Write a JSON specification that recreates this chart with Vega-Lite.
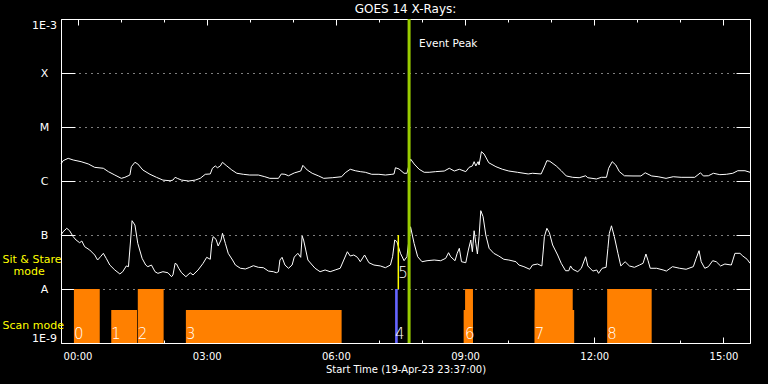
{
  "$schema": "https://vega.github.io/schema/vega-lite/v6.json",
  "autosize": "none",
  "width": 689,
  "height": 324,
  "padding": {"left": 61, "top": 19, "right": 18, "bottom": 41},
  "background": "black",
  "title": {"text": "GOES 14 X-Rays:", "color": "white", "fontSize": 12, "font": "DejaVu Sans", "fontWeight": "normal", "anchor": "middle", "baseline": "bottom", "offset": -10},
  "config": {
    "view": {"stroke": "white", "strokeWidth": 1},
    "axis": {"domain": false, "grid": false, "labelColor": "white", "tickColor": "white", "tickWidth": 1, "titleColor": "white", "labelFont": "DejaVu Sans", "titleFont": "DejaVu Sans", "titleFontWeight": "normal", "labelOverlap": false, "labelFlush": false}
  },
  "datasets": {
    "flux": [
      {"t": "2023-04-19T23:37:00Z", "ch": "L", "f": 2.07e-6},
      {"t": "2023-04-19T23:40:00Z", "ch": "L", "f": 2.38e-6},
      {"t": "2023-04-19T23:47:00Z", "ch": "L", "f": 2.63e-6},
      {"t": "2023-04-19T23:54:00Z", "ch": "L", "f": 2.45e-6},
      {"t": "2023-04-20T00:05:00Z", "ch": "L", "f": 2.28e-6},
      {"t": "2023-04-20T00:15:00Z", "ch": "L", "f": 2.07e-6},
      {"t": "2023-04-20T00:24:00Z", "ch": "L", "f": 1.79e-6},
      {"t": "2023-04-20T00:36:00Z", "ch": "L", "f": 1.72e-6},
      {"t": "2023-04-20T00:43:00Z", "ch": "L", "f": 1.49e-6},
      {"t": "2023-04-20T00:52:00Z", "ch": "L", "f": 1.29e-6},
      {"t": "2023-04-20T01:01:00Z", "ch": "L", "f": 1.12e-6},
      {"t": "2023-04-20T01:06:00Z", "ch": "L", "f": 1.17e-6},
      {"t": "2023-04-20T01:13:00Z", "ch": "L", "f": 1.29e-6},
      {"t": "2023-04-20T01:15:00Z", "ch": "L", "f": 1.84e-6},
      {"t": "2023-04-20T01:20:00Z", "ch": "L", "f": 2.22e-6},
      {"t": "2023-04-20T01:24:00Z", "ch": "L", "f": 2.07e-6},
      {"t": "2023-04-20T01:31:00Z", "ch": "L", "f": 1.60e-6},
      {"t": "2023-04-20T01:41:00Z", "ch": "L", "f": 1.33e-6},
      {"t": "2023-04-20T01:50:00Z", "ch": "L", "f": 1.17e-6},
      {"t": "2023-04-20T01:59:00Z", "ch": "L", "f": 1.04e-6},
      {"t": "2023-04-20T02:09:00Z", "ch": "L", "f": 1.01e-6},
      {"t": "2023-04-20T02:13:00Z", "ch": "L", "f": 1.04e-6},
      {"t": "2023-04-20T02:16:00Z", "ch": "L", "f": 1.17e-6},
      {"t": "2023-04-20T02:19:00Z", "ch": "L", "f": 1.12e-6},
      {"t": "2023-04-20T02:25:00Z", "ch": "L", "f": 1.04e-6},
      {"t": "2023-04-20T02:35:00Z", "ch": "L", "f": 1.00e-6},
      {"t": "2023-04-20T02:44:00Z", "ch": "L", "f": 1.04e-6},
      {"t": "2023-04-20T02:51:00Z", "ch": "L", "f": 1.12e-6},
      {"t": "2023-04-20T02:58:00Z", "ch": "L", "f": 1.33e-6},
      {"t": "2023-04-20T03:05:00Z", "ch": "L", "f": 1.35e-6},
      {"t": "2023-04-20T03:08:00Z", "ch": "L", "f": 1.72e-6},
      {"t": "2023-04-20T03:12:00Z", "ch": "L", "f": 1.90e-6},
      {"t": "2023-04-20T03:15:00Z", "ch": "L", "f": 1.76e-6},
      {"t": "2023-04-20T03:19:00Z", "ch": "L", "f": 1.90e-6},
      {"t": "2023-04-20T03:22:00Z", "ch": "L", "f": 2.22e-6},
      {"t": "2023-04-20T03:28:00Z", "ch": "L", "f": 1.90e-6},
      {"t": "2023-04-20T03:35:00Z", "ch": "L", "f": 1.60e-6},
      {"t": "2023-04-20T03:42:00Z", "ch": "L", "f": 1.39e-6},
      {"t": "2023-04-20T03:51:00Z", "ch": "L", "f": 1.33e-6},
      {"t": "2023-04-20T04:00:00Z", "ch": "L", "f": 1.29e-6},
      {"t": "2023-04-20T04:12:00Z", "ch": "L", "f": 1.29e-6},
      {"t": "2023-04-20T04:21:00Z", "ch": "L", "f": 1.20e-6},
      {"t": "2023-04-20T04:28:00Z", "ch": "L", "f": 1.12e-6},
      {"t": "2023-04-20T04:40:00Z", "ch": "L", "f": 1.12e-6},
      {"t": "2023-04-20T04:44:00Z", "ch": "L", "f": 1.35e-6},
      {"t": "2023-04-20T04:49:00Z", "ch": "L", "f": 1.33e-6},
      {"t": "2023-04-20T04:54:00Z", "ch": "L", "f": 1.25e-6},
      {"t": "2023-04-20T05:02:00Z", "ch": "L", "f": 1.41e-6},
      {"t": "2023-04-20T05:11:00Z", "ch": "L", "f": 1.53e-6},
      {"t": "2023-04-20T05:14:00Z", "ch": "L", "f": 1.95e-6},
      {"t": "2023-04-20T05:20:00Z", "ch": "L", "f": 1.60e-6},
      {"t": "2023-04-20T05:27:00Z", "ch": "L", "f": 1.39e-6},
      {"t": "2023-04-20T05:36:00Z", "ch": "L", "f": 1.24e-6},
      {"t": "2023-04-20T05:43:00Z", "ch": "L", "f": 1.12e-6},
      {"t": "2023-04-20T05:55:00Z", "ch": "L", "f": 1.15e-6},
      {"t": "2023-04-20T06:08:00Z", "ch": "L", "f": 1.20e-6},
      {"t": "2023-04-20T06:13:00Z", "ch": "L", "f": 1.42e-6},
      {"t": "2023-04-20T06:20:00Z", "ch": "L", "f": 1.65e-6},
      {"t": "2023-04-20T06:27:00Z", "ch": "L", "f": 1.55e-6},
      {"t": "2023-04-20T06:34:00Z", "ch": "L", "f": 1.49e-6},
      {"t": "2023-04-20T06:41:00Z", "ch": "L", "f": 1.45e-6},
      {"t": "2023-04-20T06:50:00Z", "ch": "L", "f": 1.33e-6},
      {"t": "2023-04-20T07:00:00Z", "ch": "L", "f": 1.33e-6},
      {"t": "2023-04-20T07:09:00Z", "ch": "L", "f": 1.29e-6},
      {"t": "2023-04-20T07:18:00Z", "ch": "L", "f": 1.33e-6},
      {"t": "2023-04-20T07:21:00Z", "ch": "L", "f": 1.35e-6},
      {"t": "2023-04-20T07:23:00Z", "ch": "L", "f": 1.76e-6},
      {"t": "2023-04-20T07:28:00Z", "ch": "L", "f": 1.67e-6},
      {"t": "2023-04-20T07:35:00Z", "ch": "L", "f": 1.39e-6},
      {"t": "2023-04-20T07:39:00Z", "ch": "L", "f": 1.39e-6},
      {"t": "2023-04-20T07:44:00Z", "ch": "L", "f": 2.56e-6},
      {"t": "2023-04-20T07:49:00Z", "ch": "L", "f": 2.07e-6},
      {"t": "2023-04-20T07:56:00Z", "ch": "L", "f": 1.65e-6},
      {"t": "2023-04-20T08:03:00Z", "ch": "L", "f": 1.45e-6},
      {"t": "2023-04-20T08:10:00Z", "ch": "L", "f": 1.45e-6},
      {"t": "2023-04-20T08:19:00Z", "ch": "L", "f": 1.49e-6},
      {"t": "2023-04-20T08:31:00Z", "ch": "L", "f": 1.53e-6},
      {"t": "2023-04-20T08:38:00Z", "ch": "L", "f": 1.72e-6},
      {"t": "2023-04-20T08:45:00Z", "ch": "L", "f": 1.53e-6},
      {"t": "2023-04-20T08:52:00Z", "ch": "L", "f": 1.65e-6},
      {"t": "2023-04-20T09:01:00Z", "ch": "L", "f": 1.49e-6},
      {"t": "2023-04-20T09:05:36Z", "ch": "L", "f": 1.79e-6},
      {"t": "2023-04-20T09:10:12Z", "ch": "L", "f": 1.90e-6},
      {"t": "2023-04-20T09:12:36Z", "ch": "L", "f": 2.28e-6},
      {"t": "2023-04-20T09:15:00Z", "ch": "L", "f": 1.90e-6},
      {"t": "2023-04-20T09:18:12Z", "ch": "L", "f": 2.28e-6},
      {"t": "2023-04-20T09:19:30Z", "ch": "L", "f": 1.98e-6},
      {"t": "2023-04-20T09:22:48Z", "ch": "L", "f": 3.49e-6},
      {"t": "2023-04-20T09:26:30Z", "ch": "L", "f": 3.16e-6},
      {"t": "2023-04-20T09:33:00Z", "ch": "L", "f": 2.18e-6},
      {"t": "2023-04-20T09:43:00Z", "ch": "L", "f": 1.84e-6},
      {"t": "2023-04-20T09:52:00Z", "ch": "L", "f": 1.65e-6},
      {"t": "2023-04-20T10:01:00Z", "ch": "L", "f": 1.53e-6},
      {"t": "2023-04-20T10:13:00Z", "ch": "L", "f": 1.45e-6},
      {"t": "2023-04-20T10:28:00Z", "ch": "L", "f": 1.35e-6},
      {"t": "2023-04-20T10:34:00Z", "ch": "L", "f": 1.39e-6},
      {"t": "2023-04-20T10:46:00Z", "ch": "L", "f": 1.35e-6},
      {"t": "2023-04-20T10:51:00Z", "ch": "L", "f": 1.90e-6},
      {"t": "2023-04-20T10:54:00Z", "ch": "L", "f": 2.38e-6},
      {"t": "2023-04-20T10:58:00Z", "ch": "L", "f": 2.32e-6},
      {"t": "2023-04-20T11:07:00Z", "ch": "L", "f": 1.90e-6},
      {"t": "2023-04-20T11:14:00Z", "ch": "L", "f": 1.55e-6},
      {"t": "2023-04-20T11:21:00Z", "ch": "L", "f": 1.24e-6},
      {"t": "2023-04-20T11:30:00Z", "ch": "L", "f": 1.17e-6},
      {"t": "2023-04-20T11:39:00Z", "ch": "L", "f": 1.15e-6},
      {"t": "2023-04-20T11:48:00Z", "ch": "L", "f": 1.25e-6},
      {"t": "2023-04-20T11:51:00Z", "ch": "L", "f": 1.15e-6},
      {"t": "2023-04-20T12:03:00Z", "ch": "L", "f": 1.09e-6},
      {"t": "2023-04-20T12:10:00Z", "ch": "L", "f": 1.17e-6},
      {"t": "2023-04-20T12:17:00Z", "ch": "L", "f": 1.17e-6},
      {"t": "2023-04-20T12:20:00Z", "ch": "L", "f": 1.72e-6},
      {"t": "2023-04-20T12:25:00Z", "ch": "L", "f": 2.28e-6},
      {"t": "2023-04-20T12:30:00Z", "ch": "L", "f": 1.98e-6},
      {"t": "2023-04-20T12:35:00Z", "ch": "L", "f": 1.49e-6},
      {"t": "2023-04-20T12:42:00Z", "ch": "L", "f": 1.25e-6},
      {"t": "2023-04-20T12:54:00Z", "ch": "L", "f": 1.24e-6},
      {"t": "2023-04-20T13:05:00Z", "ch": "L", "f": 1.24e-6},
      {"t": "2023-04-20T13:11:00Z", "ch": "L", "f": 1.42e-6},
      {"t": "2023-04-20T13:20:00Z", "ch": "L", "f": 1.24e-6},
      {"t": "2023-04-20T13:29:00Z", "ch": "L", "f": 1.20e-6},
      {"t": "2023-04-20T13:40:00Z", "ch": "L", "f": 1.12e-6},
      {"t": "2023-04-20T13:50:00Z", "ch": "L", "f": 1.20e-6},
      {"t": "2023-04-20T14:01:00Z", "ch": "L", "f": 1.17e-6},
      {"t": "2023-04-20T14:20:00Z", "ch": "L", "f": 1.17e-6},
      {"t": "2023-04-20T14:28:00Z", "ch": "L", "f": 1.42e-6},
      {"t": "2023-04-20T14:32:00Z", "ch": "L", "f": 1.24e-6},
      {"t": "2023-04-20T14:39:00Z", "ch": "L", "f": 1.25e-6},
      {"t": "2023-04-20T14:46:00Z", "ch": "L", "f": 1.39e-6},
      {"t": "2023-04-20T14:55:00Z", "ch": "L", "f": 1.31e-6},
      {"t": "2023-04-20T15:04:00Z", "ch": "L", "f": 1.33e-6},
      {"t": "2023-04-20T15:13:00Z", "ch": "L", "f": 1.39e-6},
      {"t": "2023-04-20T15:20:00Z", "ch": "L", "f": 1.55e-6},
      {"t": "2023-04-20T15:30:00Z", "ch": "L", "f": 1.55e-6},
      {"t": "2023-04-20T15:37:00Z", "ch": "L", "f": 1.45e-6},
      {"t": "2023-04-19T23:37:00Z", "ch": "S", "f": 1.00e-7},
      {"t": "2023-04-19T23:40:00Z", "ch": "S", "f": 1.15e-7},
      {"t": "2023-04-19T23:45:00Z", "ch": "S", "f": 1.33e-7},
      {"t": "2023-04-19T23:49:00Z", "ch": "S", "f": 1.20e-7},
      {"t": "2023-04-19T23:54:00Z", "ch": "S", "f": 9.3e-8},
      {"t": "2023-04-19T23:58:00Z", "ch": "S", "f": 8.08e-8},
      {"t": "2023-04-20T00:03:00Z", "ch": "S", "f": 7.2e-8},
      {"t": "2023-04-20T00:06:00Z", "ch": "S", "f": 7.74e-8},
      {"t": "2023-04-20T00:10:00Z", "ch": "S", "f": 6.07e-8},
      {"t": "2023-04-20T00:17:00Z", "ch": "S", "f": 5.28e-8},
      {"t": "2023-04-20T00:24:00Z", "ch": "S", "f": 4.26e-8},
      {"t": "2023-04-20T00:28:00Z", "ch": "S", "f": 3.44e-8},
      {"t": "2023-04-20T00:32:00Z", "ch": "S", "f": 3.96e-8},
      {"t": "2023-04-20T00:36:00Z", "ch": "S", "f": 4.58e-8},
      {"t": "2023-04-20T00:40:00Z", "ch": "S", "f": 3.70e-8},
      {"t": "2023-04-20T00:45:00Z", "ch": "S", "f": 2.78e-8},
      {"t": "2023-04-20T00:52:00Z", "ch": "S", "f": 2.25e-8},
      {"t": "2023-04-20T00:59:00Z", "ch": "S", "f": 1.90e-8},
      {"t": "2023-04-20T01:03:00Z", "ch": "S", "f": 2.09e-8},
      {"t": "2023-04-20T01:08:00Z", "ch": "S", "f": 2.67e-8},
      {"t": "2023-04-20T01:11:00Z", "ch": "S", "f": 2.59e-8},
      {"t": "2023-04-20T01:14:00Z", "ch": "S", "f": 8.08e-8},
      {"t": "2023-04-20T01:16:00Z", "ch": "S", "f": 1.84e-7},
      {"t": "2023-04-20T01:20:00Z", "ch": "S", "f": 1.53e-7},
      {"t": "2023-04-20T01:24:00Z", "ch": "S", "f": 7.0e-8},
      {"t": "2023-04-20T01:30:00Z", "ch": "S", "f": 3.70e-8},
      {"t": "2023-04-20T01:35:00Z", "ch": "S", "f": 2.78e-8},
      {"t": "2023-04-20T01:38:00Z", "ch": "S", "f": 2.59e-8},
      {"t": "2023-04-20T01:43:00Z", "ch": "S", "f": 2.78e-8},
      {"t": "2023-04-20T01:48:00Z", "ch": "S", "f": 2.09e-8},
      {"t": "2023-04-20T01:52:00Z", "ch": "S", "f": 1.95e-8},
      {"t": "2023-04-20T01:59:00Z", "ch": "S", "f": 2.09e-8},
      {"t": "2023-04-20T02:06:00Z", "ch": "S", "f": 2.00e-8},
      {"t": "2023-04-20T02:11:00Z", "ch": "S", "f": 1.69e-8},
      {"t": "2023-04-20T02:13:00Z", "ch": "S", "f": 1.82e-8},
      {"t": "2023-04-20T02:16:00Z", "ch": "S", "f": 2.99e-8},
      {"t": "2023-04-20T02:18:00Z", "ch": "S", "f": 2.90e-8},
      {"t": "2023-04-20T02:21:00Z", "ch": "S", "f": 2.42e-8},
      {"t": "2023-04-20T02:25:00Z", "ch": "S", "f": 2.00e-8},
      {"t": "2023-04-20T02:31:00Z", "ch": "S", "f": 1.69e-8},
      {"t": "2023-04-20T02:37:00Z", "ch": "S", "f": 2.00e-8},
      {"t": "2023-04-20T02:41:00Z", "ch": "S", "f": 1.82e-8},
      {"t": "2023-04-20T02:48:00Z", "ch": "S", "f": 2.25e-8},
      {"t": "2023-04-20T02:55:00Z", "ch": "S", "f": 2.99e-8},
      {"t": "2023-04-20T03:00:00Z", "ch": "S", "f": 3.86e-8},
      {"t": "2023-04-20T03:05:00Z", "ch": "S", "f": 3.55e-8},
      {"t": "2023-04-20T03:07:00Z", "ch": "S", "f": 7.0e-8},
      {"t": "2023-04-20T03:09:00Z", "ch": "S", "f": 9.3e-8},
      {"t": "2023-04-20T03:13:00Z", "ch": "S", "f": 8.33e-8},
      {"t": "2023-04-20T03:16:00Z", "ch": "S", "f": 6.26e-8},
      {"t": "2023-04-20T03:20:00Z", "ch": "S", "f": 8.08e-8},
      {"t": "2023-04-20T03:22:00Z", "ch": "S", "f": 1.075e-7},
      {"t": "2023-04-20T03:26:00Z", "ch": "S", "f": 7.0e-8},
      {"t": "2023-04-20T03:30:00Z", "ch": "S", "f": 4.58e-8},
      {"t": "2023-04-20T03:36:00Z", "ch": "S", "f": 3.44e-8},
      {"t": "2023-04-20T03:40:00Z", "ch": "S", "f": 2.78e-8},
      {"t": "2023-04-20T03:47:00Z", "ch": "S", "f": 2.42e-8},
      {"t": "2023-04-20T03:54:00Z", "ch": "S", "f": 2.35e-8},
      {"t": "2023-04-20T04:00:00Z", "ch": "S", "f": 2.52e-8},
      {"t": "2023-04-20T04:05:00Z", "ch": "S", "f": 2.70e-8},
      {"t": "2023-04-20T04:12:00Z", "ch": "S", "f": 2.52e-8},
      {"t": "2023-04-20T04:19:00Z", "ch": "S", "f": 2.48e-8},
      {"t": "2023-04-20T04:26:00Z", "ch": "S", "f": 2.15e-8},
      {"t": "2023-04-20T04:33:00Z", "ch": "S", "f": 2.09e-8},
      {"t": "2023-04-20T04:37:00Z", "ch": "S", "f": 2.00e-8},
      {"t": "2023-04-20T04:40:00Z", "ch": "S", "f": 2.09e-8},
      {"t": "2023-04-20T04:42:00Z", "ch": "S", "f": 3.44e-8},
      {"t": "2023-04-20T04:45:00Z", "ch": "S", "f": 3.86e-8},
      {"t": "2023-04-20T04:49:00Z", "ch": "S", "f": 2.78e-8},
      {"t": "2023-04-20T04:54:00Z", "ch": "S", "f": 2.42e-8},
      {"t": "2023-04-20T04:59:00Z", "ch": "S", "f": 2.78e-8},
      {"t": "2023-04-20T05:02:00Z", "ch": "S", "f": 3.9e-8},
      {"t": "2023-04-20T05:07:00Z", "ch": "S", "f": 4.58e-8},
      {"t": "2023-04-20T05:11:00Z", "ch": "S", "f": 3.86e-8},
      {"t": "2023-04-20T05:13:00Z", "ch": "S", "f": 9.58e-8},
      {"t": "2023-04-20T05:15:00Z", "ch": "S", "f": 8.08e-8},
      {"t": "2023-04-20T05:18:00Z", "ch": "S", "f": 5.28e-8},
      {"t": "2023-04-20T05:21:00Z", "ch": "S", "f": 3.44e-8},
      {"t": "2023-04-20T05:27:00Z", "ch": "S", "f": 2.78e-8},
      {"t": "2023-04-20T05:31:00Z", "ch": "S", "f": 2.42e-8},
      {"t": "2023-04-20T05:38:00Z", "ch": "S", "f": 2.09e-8},
      {"t": "2023-04-20T05:45:00Z", "ch": "S", "f": 2.25e-8},
      {"t": "2023-04-20T05:52:00Z", "ch": "S", "f": 2.09e-8},
      {"t": "2023-04-20T05:59:00Z", "ch": "S", "f": 2.25e-8},
      {"t": "2023-04-20T06:06:00Z", "ch": "S", "f": 2.42e-8},
      {"t": "2023-04-20T06:11:00Z", "ch": "S", "f": 3.44e-8},
      {"t": "2023-04-20T06:16:00Z", "ch": "S", "f": 4.9e-8},
      {"t": "2023-04-20T06:20:00Z", "ch": "S", "f": 4.08e-8},
      {"t": "2023-04-20T06:25:00Z", "ch": "S", "f": 4.26e-8},
      {"t": "2023-04-20T06:30:00Z", "ch": "S", "f": 3.86e-8},
      {"t": "2023-04-20T06:34:00Z", "ch": "S", "f": 3.20e-8},
      {"t": "2023-04-20T06:40:00Z", "ch": "S", "f": 4.26e-8},
      {"t": "2023-04-20T06:46:00Z", "ch": "S", "f": 3.07e-8},
      {"t": "2023-04-20T06:53:00Z", "ch": "S", "f": 2.78e-8},
      {"t": "2023-04-20T07:02:00Z", "ch": "S", "f": 2.67e-8},
      {"t": "2023-04-20T07:09:00Z", "ch": "S", "f": 2.48e-8},
      {"t": "2023-04-20T07:16:00Z", "ch": "S", "f": 2.78e-8},
      {"t": "2023-04-20T07:19:00Z", "ch": "S", "f": 3.96e-8},
      {"t": "2023-04-20T07:22:00Z", "ch": "S", "f": 8.08e-8},
      {"t": "2023-04-20T07:25:00Z", "ch": "S", "f": 7.51e-8},
      {"t": "2023-04-20T07:30:00Z", "ch": "S", "f": 4.58e-8},
      {"t": "2023-04-20T07:35:00Z", "ch": "S", "f": 3.34e-8},
      {"t": "2023-04-20T07:39:00Z", "ch": "S", "f": 3.96e-8},
      {"t": "2023-04-20T07:44:00Z", "ch": "S", "f": 1.42e-7},
      {"t": "2023-04-20T07:49:00Z", "ch": "S", "f": 7.0e-8},
      {"t": "2023-04-20T07:54:00Z", "ch": "S", "f": 3.96e-8},
      {"t": "2023-04-20T08:00:00Z", "ch": "S", "f": 3.20e-8},
      {"t": "2023-04-20T08:07:00Z", "ch": "S", "f": 3.34e-8},
      {"t": "2023-04-20T08:17:00Z", "ch": "S", "f": 3.44e-8},
      {"t": "2023-04-20T08:26:00Z", "ch": "S", "f": 3.34e-8},
      {"t": "2023-04-20T08:33:00Z", "ch": "S", "f": 3.70e-8},
      {"t": "2023-04-20T08:37:00Z", "ch": "S", "f": 4.70e-8},
      {"t": "2023-04-20T08:40:00Z", "ch": "S", "f": 3.96e-8},
      {"t": "2023-04-20T08:46:00Z", "ch": "S", "f": 3.34e-8},
      {"t": "2023-04-20T08:49:00Z", "ch": "S", "f": 4.58e-8},
      {"t": "2023-04-20T08:52:00Z", "ch": "S", "f": 5.67e-8},
      {"t": "2023-04-20T08:55:00Z", "ch": "S", "f": 3.20e-8},
      {"t": "2023-04-20T09:01:00Z", "ch": "S", "f": 3.07e-8},
      {"t": "2023-04-20T09:04:36Z", "ch": "S", "f": 5.28e-8},
      {"t": "2023-04-20T09:08:00Z", "ch": "S", "f": 8.08e-8},
      {"t": "2023-04-20T09:10:12Z", "ch": "S", "f": 4.9e-8},
      {"t": "2023-04-20T09:12:36Z", "ch": "S", "f": 1.2e-7},
      {"t": "2023-04-20T09:15:00Z", "ch": "S", "f": 7.0e-8},
      {"t": "2023-04-20T09:17:12Z", "ch": "S", "f": 4.45e-8},
      {"t": "2023-04-20T09:19:30Z", "ch": "S", "f": 9.3e-8},
      {"t": "2023-04-20T09:21:54Z", "ch": "S", "f": 2.82e-7},
      {"t": "2023-04-20T09:25:06Z", "ch": "S", "f": 2.18e-7},
      {"t": "2023-04-20T09:28:54Z", "ch": "S", "f": 1.0e-7},
      {"t": "2023-04-20T09:33:30Z", "ch": "S", "f": 5.67e-8},
      {"t": "2023-04-20T09:40:00Z", "ch": "S", "f": 4.58e-8},
      {"t": "2023-04-20T09:47:00Z", "ch": "S", "f": 4.08e-8},
      {"t": "2023-04-20T09:54:00Z", "ch": "S", "f": 3.55e-8},
      {"t": "2023-04-20T10:01:00Z", "ch": "S", "f": 3.44e-8},
      {"t": "2023-04-20T10:11:00Z", "ch": "S", "f": 3.20e-8},
      {"t": "2023-04-20T10:15:00Z", "ch": "S", "f": 2.78e-8},
      {"t": "2023-04-20T10:22:00Z", "ch": "S", "f": 2.59e-8},
      {"t": "2023-04-20T10:30:00Z", "ch": "S", "f": 2.32e-8},
      {"t": "2023-04-20T10:34:00Z", "ch": "S", "f": 2.78e-8},
      {"t": "2023-04-20T10:41:00Z", "ch": "S", "f": 2.90e-8},
      {"t": "2023-04-20T10:47:00Z", "ch": "S", "f": 2.67e-8},
      {"t": "2023-04-20T10:49:00Z", "ch": "S", "f": 5.28e-8},
      {"t": "2023-04-20T10:50:30Z", "ch": "S", "f": 9.3e-8},
      {"t": "2023-04-20T10:54:00Z", "ch": "S", "f": 1.33e-7},
      {"t": "2023-04-20T10:57:30Z", "ch": "S", "f": 1.10e-7},
      {"t": "2023-04-20T11:02:00Z", "ch": "S", "f": 6.53e-8},
      {"t": "2023-04-20T11:09:00Z", "ch": "S", "f": 4.26e-8},
      {"t": "2023-04-20T11:14:00Z", "ch": "S", "f": 2.99e-8},
      {"t": "2023-04-20T11:20:00Z", "ch": "S", "f": 2.18e-8},
      {"t": "2023-04-20T11:24:30Z", "ch": "S", "f": 2.18e-8},
      {"t": "2023-04-20T11:27:00Z", "ch": "S", "f": 2.67e-8},
      {"t": "2023-04-20T11:30:00Z", "ch": "S", "f": 2.32e-8},
      {"t": "2023-04-20T11:37:00Z", "ch": "S", "f": 2.09e-8},
      {"t": "2023-04-20T11:42:00Z", "ch": "S", "f": 2.42e-8},
      {"t": "2023-04-20T11:48:00Z", "ch": "S", "f": 3.96e-8},
      {"t": "2023-04-20T11:51:00Z", "ch": "S", "f": 2.67e-8},
      {"t": "2023-04-20T11:58:00Z", "ch": "S", "f": 2.15e-8},
      {"t": "2023-04-20T12:03:30Z", "ch": "S", "f": 2.25e-8},
      {"t": "2023-04-20T12:06:00Z", "ch": "S", "f": 1.95e-8},
      {"t": "2023-04-20T12:11:00Z", "ch": "S", "f": 2.42e-8},
      {"t": "2023-04-20T12:16:30Z", "ch": "S", "f": 2.52e-8},
      {"t": "2023-04-20T12:19:00Z", "ch": "S", "f": 5.67e-8},
      {"t": "2023-04-20T12:21:00Z", "ch": "S", "f": 1.075e-7},
      {"t": "2023-04-20T12:24:00Z", "ch": "S", "f": 1.48e-7},
      {"t": "2023-04-20T12:28:00Z", "ch": "S", "f": 9.3e-8},
      {"t": "2023-04-20T12:33:00Z", "ch": "S", "f": 4.58e-8},
      {"t": "2023-04-20T12:37:00Z", "ch": "S", "f": 2.67e-8},
      {"t": "2023-04-20T12:43:00Z", "ch": "S", "f": 3.20e-8},
      {"t": "2023-04-20T12:49:00Z", "ch": "S", "f": 2.67e-8},
      {"t": "2023-04-20T12:56:00Z", "ch": "S", "f": 2.52e-8},
      {"t": "2023-04-20T13:03:00Z", "ch": "S", "f": 2.78e-8},
      {"t": "2023-04-20T13:08:00Z", "ch": "S", "f": 2.99e-8},
      {"t": "2023-04-20T13:12:00Z", "ch": "S", "f": 4.45e-8},
      {"t": "2023-04-20T13:15:00Z", "ch": "S", "f": 3.34e-8},
      {"t": "2023-04-20T13:18:00Z", "ch": "S", "f": 2.42e-8},
      {"t": "2023-04-20T13:27:00Z", "ch": "S", "f": 2.42e-8},
      {"t": "2023-04-20T13:36:00Z", "ch": "S", "f": 2.25e-8},
      {"t": "2023-04-20T13:40:30Z", "ch": "S", "f": 2.15e-8},
      {"t": "2023-04-20T13:49:00Z", "ch": "S", "f": 2.59e-8},
      {"t": "2023-04-20T13:59:00Z", "ch": "S", "f": 2.42e-8},
      {"t": "2023-04-20T14:08:00Z", "ch": "S", "f": 2.32e-8},
      {"t": "2023-04-20T14:18:00Z", "ch": "S", "f": 2.59e-8},
      {"t": "2023-04-20T14:22:00Z", "ch": "S", "f": 3.70e-8},
      {"t": "2023-04-20T14:26:00Z", "ch": "S", "f": 5.12e-8},
      {"t": "2023-04-20T14:29:00Z", "ch": "S", "f": 3.20e-8},
      {"t": "2023-04-20T14:34:00Z", "ch": "S", "f": 2.42e-8},
      {"t": "2023-04-20T14:39:00Z", "ch": "S", "f": 2.59e-8},
      {"t": "2023-04-20T14:45:00Z", "ch": "S", "f": 3.34e-8},
      {"t": "2023-04-20T14:50:00Z", "ch": "S", "f": 3.20e-8},
      {"t": "2023-04-20T14:56:00Z", "ch": "S", "f": 2.67e-8},
      {"t": "2023-04-20T15:02:00Z", "ch": "S", "f": 2.90e-8},
      {"t": "2023-04-20T15:11:00Z", "ch": "S", "f": 2.78e-8},
      {"t": "2023-04-20T15:16:00Z", "ch": "S", "f": 4.58e-8},
      {"t": "2023-04-20T15:23:00Z", "ch": "S", "f": 4.58e-8},
      {"t": "2023-04-20T15:27:00Z", "ch": "S", "f": 4.08e-8},
      {"t": "2023-04-20T15:33:00Z", "ch": "S", "f": 3.55e-8},
      {"t": "2023-04-20T15:37:00Z", "ch": "S", "f": 2.99e-8}
    ],
    "modes": [
      {"kind": "scan", "start": "2023-04-19T23:55:00Z", "end": "2023-04-20T00:31:00Z", "bottom": 1e-9, "top": 1e-8, "label": "0"},
      {"kind": "scan", "start": "2023-04-20T00:47:00Z", "end": "2023-04-20T01:23:00Z", "bottom": 1e-9, "top": 4.08e-9, "label": "1"},
      {"kind": "scan", "start": "2023-04-20T01:24:00Z", "end": "2023-04-20T02:00:00Z", "bottom": 1e-9, "top": 1e-8, "label": "2"},
      {"kind": "scan", "start": "2023-04-20T02:31:00Z", "end": "2023-04-20T06:08:00Z", "bottom": 1e-9, "top": 4.08e-9, "label": "3"},
      {"kind": "other", "start": "2023-04-20T07:22:30Z", "end": "2023-04-20T07:26:10Z", "bottom": 1e-9, "top": 1e-8, "label": "4"},
      {"kind": "stare", "start": "2023-04-20T07:27:00Z", "end": "2023-04-20T07:27:00Z", "bottom": 1e-8, "top": 1e-7, "label": "5"},
      {"kind": "scan", "start": "2023-04-20T08:58:00Z", "end": "2023-04-20T09:11:00Z", "bottom": 1e-9, "top": 4.08e-9, "label": ""},
      {"kind": "scan", "start": "2023-04-20T09:00:00Z", "end": "2023-04-20T09:11:00Z", "bottom": 1e-9, "top": 1e-8, "label": "6"},
      {"kind": "scan", "start": "2023-04-20T10:37:00Z", "end": "2023-04-20T11:32:00Z", "bottom": 1e-9, "top": 4.08e-9, "label": ""},
      {"kind": "scan", "start": "2023-04-20T10:37:00Z", "end": "2023-04-20T11:30:00Z", "bottom": 1e-9, "top": 1e-8, "label": "7"},
      {"kind": "scan", "start": "2023-04-20T12:18:00Z", "end": "2023-04-20T13:20:00Z", "bottom": 1e-9, "top": 1e-8, "label": "8"}
    ],
    "event": [
      {"t": "2023-04-20T07:42:00Z", "label": "Event Peak"}
    ]
  },
  "resolve": {"axis": {"x": "independent", "y": "independent"}},
  "layer": [
    {
      "data": {"name": "flux"},
      "mark": {"type": "line", "color": "white", "strokeWidth": 1},
      "encoding": {
        "x": {"field": "t", "type": "temporal",
          "scale": {"type": "utc", "domain": [1681947420000, 1682005020000], "nice": false},
          "axis": {"orient": "bottom", "values": [1681948800000, 1681959600000, 1681970400000, 1681981200000, 1681992000000, 1682002800000], "format": "%H:%M", "ticks": false, "labelPadding": 8, "labelFontSize": 10, "title": "Start Time (19-Apr-23 23:37:00)", "titleFontSize": 10, "titlePadding": 3}},
        "y": {"field": "f", "type": "quantitative",
          "scale": {"type": "log", "domain": [1e-9, 1e-3], "nice": false},
          "axis": {"orient": "left", "values": [1e-9, 1e-8, 1e-7, 1e-6, 1e-5, 1e-4, 1e-3], "labelExpr": "datum.value < 3e-9 ? '1E-9' : datum.value < 3e-8 ? 'A' : datum.value < 3e-7 ? 'B' : datum.value < 3e-6 ? 'C' : datum.value < 3e-5 ? 'M' : datum.value < 3e-4 ? 'X' : '1E-3'", "ticks": false, "labelPadding": 17, "labelAlign": "center", "labelFontSize": 11, "labelFlush": true, "grid": true, "gridColor": "white", "gridDash": [1, 5], "gridWidth": 1, "gridOpacity": 1, "title": null}},
        "detail": {"field": "ch", "type": "nominal"}
      }
    },
    {
      "data": {"name": "modes"},
      "transform": [{"filter": "datum.kind != 'stare'"}],
      "mark": {"type": "rect"},
      "encoding": {
        "x": {"field": "start", "type": "temporal", "scale": {"type": "utc", "domain": [1681947420000, 1682005020000], "nice": false},
          "axis": {"orient": "bottom", "values": [1681948800000, 1681959600000, 1681970400000, 1681981200000, 1681992000000, 1682002800000], "labels": false, "tickSize": -6, "title": null}},
        "x2": {"field": "end"},
        "y": {"field": "bottom", "type": "quantitative", "scale": {"type": "log", "domain": [1e-9, 1e-3], "nice": false},
          "axis": {"orient": "left", "values": [1e-9, 1e-8, 1e-7, 1e-6, 1e-5, 1e-4, 1e-3], "labels": false, "tickSize": -14, "title": null}},
        "y2": {"field": "top"},
        "color": {"field": "kind", "type": "nominal", "scale": {"domain": ["scan", "other"], "range": ["#ff8000", "#6464ff"]}, "legend": null}
      }
    },
    {
      "data": {"name": "modes"},
      "transform": [{"filter": "datum.kind == 'stare'"}],
      "mark": {"type": "rule", "color": "#ffff00", "strokeWidth": 1.5},
      "encoding": {
        "x": {"field": "start", "type": "temporal", "scale": {"type": "utc", "domain": [1681947420000, 1682005020000], "nice": false},
          "axis": {"orient": "top", "values": [1681948800000, 1681959600000, 1681970400000, 1681981200000, 1681992000000, 1682002800000], "labels": false, "tickSize": -6, "title": null}},
        "y": {"field": "bottom", "type": "quantitative", "scale": {"type": "log", "domain": [1e-9, 1e-3], "nice": false},
          "axis": {"orient": "right", "values": [1e-9, 1e-8, 1e-7, 1e-6, 1e-5, 1e-4, 1e-3], "labels": false, "tickSize": -14, "title": null}},
        "y2": {"field": "top"}
      }
    },
    {
      "data": {"name": "modes"},
      "transform": [{"filter": "datum.kind == 'stare'"}],
      "mark": {"type": "text", "color": "white", "font": "DejaVu Sans", "fontSize": 15, "fontWeight": 300, "align": "left", "baseline": "alphabetic", "dy": -11},
      "encoding": {
        "x": {"field": "start", "type": "temporal", "scale": {"type": "utc", "domain": [1681947420000, 1682005020000], "nice": false},
          "axis": {"orient": "bottom", "values": [1681952400000, 1681956000000, 1681963200000, 1681966800000, 1681974000000, 1681977600000, 1681984800000, 1681988400000, 1681995600000, 1681999200000], "labels": false, "tickSize": -3, "title": null}},
        "y": {"field": "bottom", "type": "quantitative", "scale": {"type": "log", "domain": [1e-9, 1e-3], "nice": false},
          "axis": {"orient": "left", "values": [3.07e-8, 1.87e-9], "labelExpr": "datum.value > 1e-8 ? 'Sit & Stare' : 'Scan mode'", "ticks": false, "labelPadding": 59, "labelAlign": "left", "labelBaseline": "alphabetic", "labelColor": "#ffff00", "labelFontSize": 11, "title": null}},
        "text": {"field": "label"}
      }
    },
    {
      "data": {"name": "modes"},
      "transform": [{"filter": "datum.kind != 'stare' && datum.label != ''"}],
      "mark": {"type": "text", "color": "white", "font": "DejaVu Sans", "fontSize": 15, "fontWeight": 300, "align": "left", "baseline": "alphabetic", "dy": -4},
      "encoding": {
        "x": {"field": "start", "type": "temporal", "scale": {"type": "utc", "domain": [1681947420000, 1682005020000], "nice": false},
          "axis": {"orient": "top", "values": [1681952400000, 1681956000000, 1681963200000, 1681966800000, 1681974000000, 1681977600000, 1681984800000, 1681988400000, 1681995600000, 1681999200000], "labels": false, "tickSize": -3, "title": null}},
        "y": {"field": "bottom", "type": "quantitative", "scale": {"type": "log", "domain": [1e-9, 1e-3], "nice": false},
          "axis": {"orient": "left", "values": [1.82e-8], "labelExpr": "'mode'", "ticks": false, "labelPadding": 48, "labelAlign": "left", "labelBaseline": "alphabetic", "labelColor": "#ffff00", "labelFontSize": 11, "title": null}},
        "text": {"field": "label"}
      }
    },
    {
      "data": {"name": "event"},
      "mark": {"type": "rule", "color": "#99cc00", "strokeWidth": 3},
      "encoding": {
        "x": {"field": "t", "type": "temporal", "scale": {"type": "utc", "domain": [1681947420000, 1682005020000], "nice": false}, "axis": null}
      }
    },
    {
      "data": {"name": "event"},
      "mark": {"type": "text", "color": "white", "font": "DejaVu Sans", "fontSize": 10.5, "align": "left", "baseline": "alphabetic", "dx": 10},
      "encoding": {
        "x": {"field": "t", "type": "temporal", "scale": {"type": "utc", "domain": [1681947420000, 1682005020000], "nice": false}, "axis": null},
        "y": {"datum": 3.07e-4, "type": "quantitative", "scale": {"type": "log", "domain": [1e-9, 1e-3], "nice": false}, "axis": null},
        "text": {"field": "label"}
      }
    }
  ]
}
